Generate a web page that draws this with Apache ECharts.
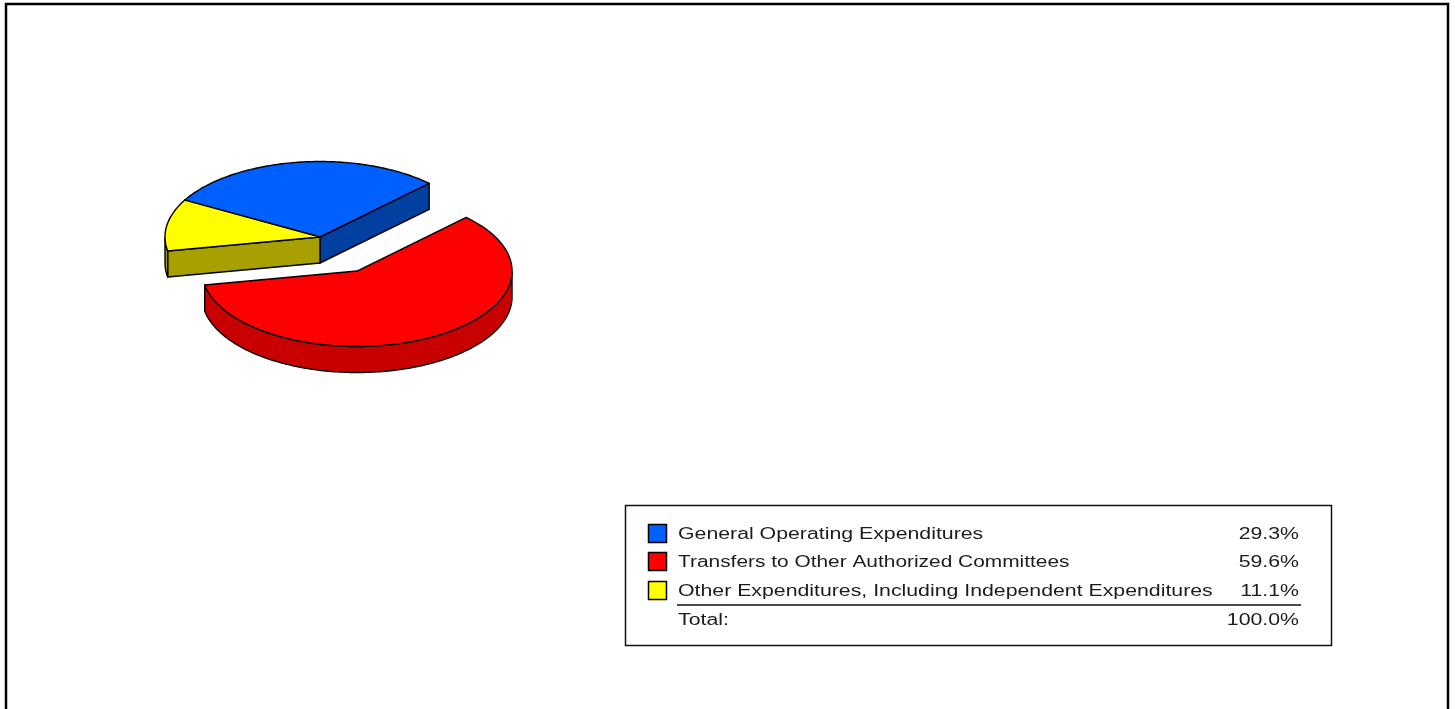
<!DOCTYPE html>
<html>
<head>
<meta charset="utf-8">
<style>html,body{margin:0;padding:0;background:#fff}#chart{width:1455px;height:709px}</style>
<script src="https://cdn.jsdelivr.net/npm/echarts@6/dist/echarts.min.js"></script>
</head>
<body>
<div id="chart"></div>
<script>
const categories = ['General Operating Expenditures', 'Transfers to Other Authorized Committees', 'Other Expenditures, Including Independent Expenditures'];
const values = [29.3, 59.6, 11.1];
const percentLabels = ['29.3%', '59.6%', '11.1%'];
const totalLabel = 'Total:';
const totalValue = '100.0%';
const topColors = ['#0060ff', '#ff0000', '#ffff00'];
const sideColors = ['#0040a0', '#c80000', '#a8a000'];
const explode = [0, 0.51, 0];
const startAngle = 150.7;
const depth = 26;

const sum = values.reduce((a, b) => a + b, 0);
const rad = d => d * Math.PI / 180;

function renderSlice(params, api) {
  const i = params.dataIndex;
  let before = 0;
  for (let k = 0; k < i; k++) before += values[k];
  const a0 = startAngle - before / sum * 360;
  const a1 = a0 - api.value(0) / sum * 360;
  const mid = rad((a0 + a1) / 2);
  const cx = explode[i] * Math.cos(mid), cy = explode[i] * Math.sin(mid);
  const P = a => api.coord([cx + Math.cos(rad(a)), cy + Math.sin(rad(a))]);
  const C = api.coord([cx, cy]);
  const down = p => [p[0], p[1] + depth];
  const arc = [];
  const n = Math.ceil(a0 - a1);
  for (let s = 0; s <= n; s++) arc.push(a0 + (a1 - a0) * s / n);
  const line = { stroke: '#000', lineWidth: 1.4, lineJoin: 'round' };
  const poly = (pts, fill) => ({ type: 'polygon', shape: { points: pts }, style: Object.assign({ fill }, line) });
  const children = [];
  const wall = p => poly([C, p, down(p), down(C)], sideColors[i]);
  if (Math.cos(rad(a0)) < 0) children.push(wall(P(a0)));
  if (Math.cos(rad(a1)) > 0) children.push(wall(P(a1)));
  const front = arc.filter(a => Math.sin(rad(a)) <= 0).map(P);
  if (front.length > 1) children.push(poly(front.concat(front.map(down).reverse()), sideColors[i]));
  children.push(poly([C].concat(arc.map(P)), topColors[i]));
  return { type: 'group', children };
}

const font = '16px "Liberation Sans", Arial, sans-serif';
const ink = '#1c1c1c';
const stretch = 1.33;
const rowStretch = [1.33, 1.305, 1.33];
const rowY = [534, 562, 591];
const textRowY = [535, 563, 592];
const graphics = [
  { type: 'polyline', shape: { points: [[6, 709], [6, 4], [1448, 4], [1448, 709]] }, style: { stroke: '#000', lineWidth: 2.5, fill: null } },
  { type: 'rect', shape: { x: 625.5, y: 505.5, width: 706, height: 140 }, style: { fill: '#fff', stroke: '#111', lineWidth: 1.5 } },
  { type: 'line', shape: { x1: 677, y1: 605, x2: 1301, y2: 605 }, style: { stroke: '#111', lineWidth: 1.6 } }
];
categories.forEach((c, i) => {
  graphics.push({ type: 'rect', shape: { x: 648.5, y: rowY[i] - 9.5, width: 18, height: 18 }, style: { fill: topColors[i], stroke: '#000', lineWidth: 1.5 } });
  graphics.push({ type: 'text', x: 678, y: textRowY[i], scaleX: rowStretch[i], style: { text: c, font, fill: ink, textAlign: 'left', textVerticalAlign: 'middle' } });
  graphics.push({ type: 'text', x: 1299, y: textRowY[i], scaleX: stretch, style: { text: percentLabels[i], font, fill: ink, textAlign: 'right', textVerticalAlign: 'middle' } });
});
graphics.push({ type: 'text', x: 678, y: 621, scaleX: stretch, style: { text: totalLabel, font, fill: ink, textAlign: 'left', textVerticalAlign: 'middle' } });
graphics.push({ type: 'text', x: 1299, y: 621, scaleX: stretch, style: { text: totalValue, font, fill: ink, textAlign: 'right', textVerticalAlign: 'middle' } });

const chart = echarts.init(document.getElementById('chart'));
chart.setOption({
  animation: false,
  backgroundColor: '#ffffff',
  grid: { left: 165, top: 161.5, width: 310, height: 151 },
  xAxis: { type: 'value', min: -1, max: 1, show: false },
  yAxis: { type: 'value', min: -1, max: 1, show: false },
  graphic: graphics,
  series: [{
    type: 'custom',
    coordinateSystem: 'cartesian2d',
    clip: false,
    renderItem: renderSlice,
    encode: { x: 0 },
    data: values.map((v, i) => ({ name: categories[i], value: [v] }))
  }]
});
</script>
</body>
</html>
